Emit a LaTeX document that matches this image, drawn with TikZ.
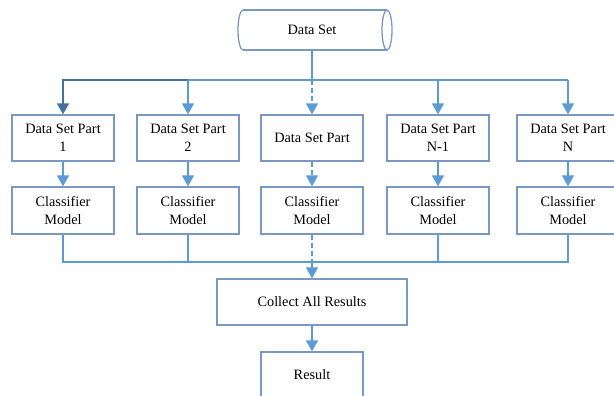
\documentclass[tikz,border=0pt]{standalone}
\usepackage{fontspec}
\setmainfont{Liberation Serif}
\usetikzlibrary{arrows.meta}
\definecolor{lineblue}{HTML}{5B9BD5}
\definecolor{darkblue}{HTML}{41719C}
\definecolor{boxblue}{RGB}{121,152,196}
\tikzset{
  box/.style={draw=boxblue, line width=1.3pt, fill=white, minimum width=102pt, minimum height=46pt, inner sep=1pt, align=center, font=\fontsize{14.3}{18}\selectfont},
  conn/.style={draw=lineblue, line width=1.5pt},
  arr/.style={conn, -{Triangle[width=12pt,length=11pt]}},
  dsh/.style={dash pattern=on 5pt off 3pt},
}
\begin{document}
\begin{tikzpicture}[x=1pt,y=-1pt]
\useasboundingbox (0,0) rectangle (614,396);
\clip (0,0) rectangle (614,396);
% cylinder
\draw[draw=boxblue, line width=1.3pt] (243,10) -- (387,10) (243,50) -- (387,50);
\draw[draw=boxblue, line width=1.3pt] (387,30) ellipse [x radius=5, y radius=20];
\draw[draw=boxblue, line width=1.3pt] (243,10) arc[start angle=270, end angle=90, x radius=5, y radius=20];
\node[minimum width=154pt, minimum height=40pt, inner sep=0pt, font=\fontsize{14.3}{18}\selectfont] (ds) at (312,30) {Data Set};
% row 1
\node[box] (p1) at (63,138) {Data Set Part\\1};
\node[box] (p2) at (188,138) {Data Set Part\\2};
\node[box] (p3) at (312,138) {Data Set Part};
\node[box] (p4) at (438,138) {Data Set Part\\N-1};
\node[box] (p5) at (568,138) {Data Set Part\\N};
% row 2
\node[box, minimum height=47pt] (c1) at (63,210.5) {Classifier\\Model};
\node[box, minimum height=47pt] (c2) at (188,210.5) {Classifier\\Model};
\node[box, minimum height=47pt] (c3) at (312,210.5) {Classifier\\Model};
\node[box, minimum height=47pt] (c4) at (438,210.5) {Classifier\\Model};
\node[box, minimum height=47pt] (c5) at (568,210.5) {Classifier\\Model};
% collect and result
\node[box, minimum width=190pt] (col) at (312,302) {Collect All Results};
\node[box] (res) at (312,375) {Result};
% bus coordinates
\coordinate (t1) at (63,80);
\coordinate (t2) at (188,80);
\coordinate (t3) at (312,80);
\coordinate (t4) at (438,80);
\coordinate (t5) at (568,80);
\coordinate (b1) at (63,262);
\coordinate (b2) at (188,262);
\coordinate (b3) at (312,262);
\coordinate (b4) at (438,262);
\coordinate (b5) at (568,262);
% top distribution
\draw[conn] (ds.south) -- (t3);
\draw[conn] (t2) -- (t5);
\draw[arr, draw=darkblue] (t2) -- (t1) -- (p1.north);
\draw[arr] (t2) -- (p2.north);
\draw[arr, dsh] (t3) -- (p3.north);
\draw[arr] (t4) -- (p4.north);
\draw[arr] (t5) -- (p5.north);
% row 1 -> row 2
\draw[arr] (p1) -- (c1);
\draw[arr] (p2) -- (c2);
\draw[arr, dsh] (p3) -- (c3);
\draw[arr] (p4) -- (c4);
\draw[arr] (p5) -- (c5);
% bottom collection
\draw[conn] (c1.south) -- (b1) -- (b5) -- (c5.south);
\draw[conn] (c2.south) -- (b2);
\draw[conn] (c4.south) -- (b4);
\draw[conn, dsh] (c3.south) -- (b3);
\draw[arr] (b3) -- (col.north);
\draw[arr] (col) -- (res);
\end{tikzpicture}
\end{document}
